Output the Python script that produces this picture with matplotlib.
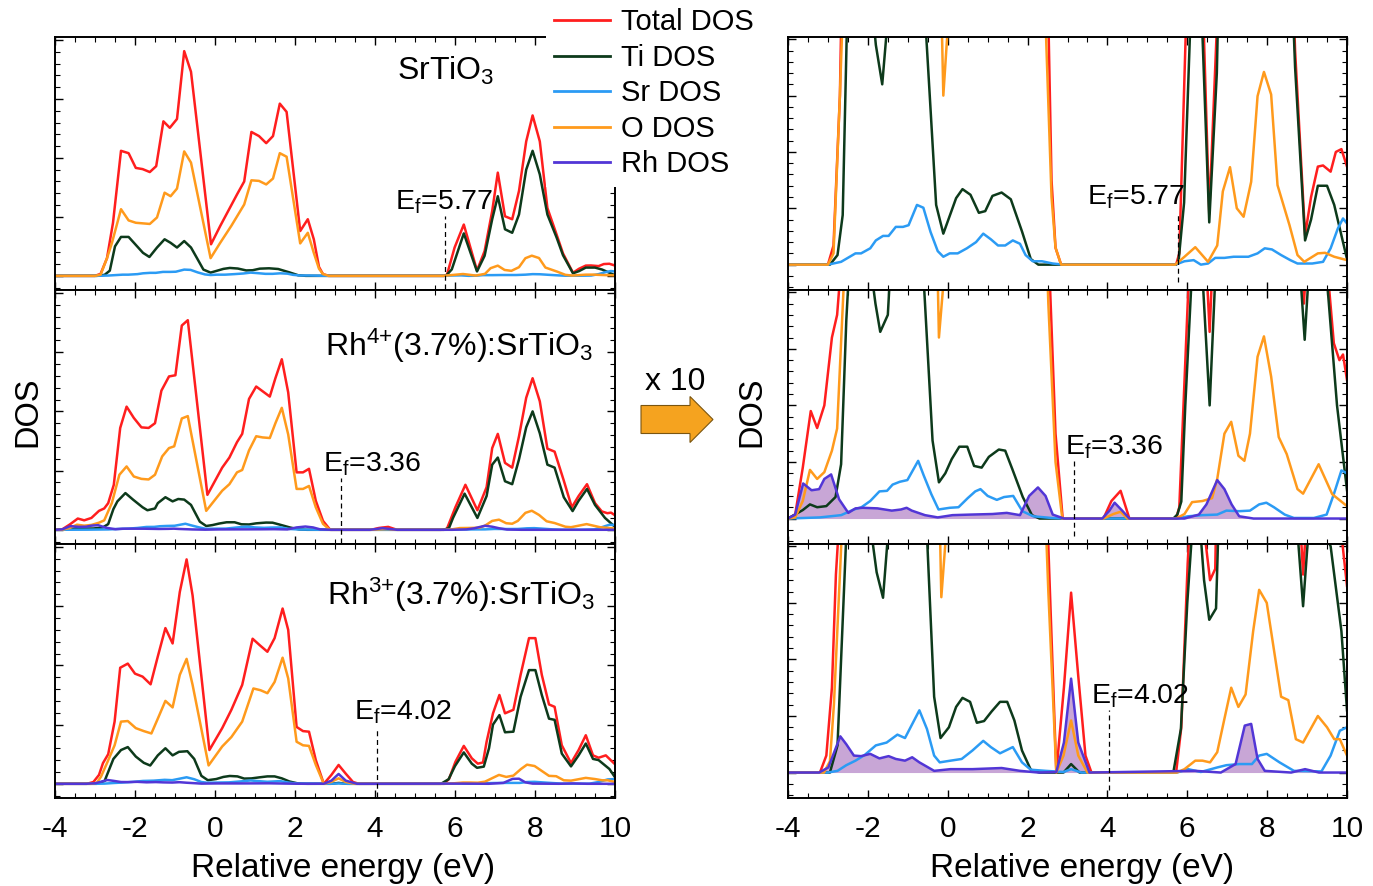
import numpy as np
import matplotlib
matplotlib.use('Agg')
import matplotlib.pyplot as plt
from matplotlib.ticker import MultipleLocator
from matplotlib.patches import FancyArrow
from matplotlib.lines import Line2D

plt.rcParams['font.family'] = ['Liberation Sans', 'DejaVu Sans']
plt.rcParams['mathtext.fontset'] = 'custom'
plt.rcParams['mathtext.rm'] = 'Liberation Sans'
plt.rcParams['mathtext.it'] = 'Liberation Sans:italic'
plt.rcParams['mathtext.default'] = 'regular'
plt.rcParams['axes.unicode_minus'] = False

# ---- SrTiO3 ----
sto_tot_e = [-4.0, -3.0, -2.86, -2.7, -2.55, -2.35, -2.16, -1.98, -1.81, -1.63, -1.47, -1.29, -1.13, -0.95, -0.77, -0.60,
             -0.10, 0.13, 0.55, 0.73, 0.91, 1.10, 1.28, 1.45, 1.62, 1.79, 2.13, 2.32, 2.47, 2.60, 2.70, 2.84, 5.72, 5.80,
             5.99, 6.22, 6.55, 6.74, 6.93, 7.07, 7.25, 7.43, 7.60, 7.78, 7.94, 8.12, 8.31, 8.54, 8.70, 8.95, 9.10, 9.27,
             9.40, 9.59, 9.72, 9.86, 10.0]
sto_tot = [0, 0, 0.034, 0.30, 0.90, 2.12, 2.08, 1.83, 1.81, 1.76, 1.86, 2.62, 2.51, 2.66, 3.81, 3.46,
           0.535, 0.845, 1.38, 1.60, 2.44, 2.37, 2.25, 2.37, 2.92, 2.78, 0.76, 0.96, 0.62, 0.15, 0.03, 0, 0, 0.02,
           0.48, 0.87, 0.09, 0.42, 1.10, 1.75, 1.01, 0.96, 1.44, 2.28, 2.72, 2.28, 1.15, 0.70, 0.38, 0.052, 0.12, 0.174,
           0.176, 0.165, 0.20, 0.205, 0.174]
sto_ti_e = [-4.0, -2.95, -2.76, -2.63, -2.50, -2.35, -2.16, -1.80, -1.64, -1.45, -1.26, -1.11, -0.95, -0.77, -0.60, -0.45,
            -0.29, -0.11, 0.21, 0.37, 0.57, 0.78, 0.94, 1.12, 1.35, 1.58, 1.86, 2.08, 2.27, 5.72, 5.78, 5.92, 6.22, 6.55,
            6.74, 6.93, 7.07, 7.25, 7.43, 7.60, 7.78, 7.94, 8.12, 8.31, 8.54, 8.70, 8.95, 9.10, 9.27, 9.50, 9.68, 10.0]
sto_ti = [0, 0, 0.017, 0.088, 0.50, 0.66, 0.66, 0.39, 0.32, 0.48, 0.62, 0.56, 0.48, 0.59, 0.48, 0.30,
          0.106, 0.055, 0.118, 0.134, 0.124, 0.092, 0.095, 0.122, 0.128, 0.116, 0.059, 0.01, 0, 0, 0.005, 0.11, 0.72, 0.075,
          0.34, 0.96, 1.35, 0.79, 0.73, 1.04, 1.80, 2.12, 1.72, 1.04, 0.65, 0.35, 0.043, 0.08, 0.14, 0.14, 0.106, 0.01]
sto_o_e = [-4.0, -3.0, -2.86, -2.70, -2.58, -2.35, -2.16, -1.98, -1.63, -1.45, -1.26, -1.11, -0.95, -0.77, -0.60, -0.11,
           0.13, 0.41, 0.73, 0.91, 1.10, 1.28, 1.45, 1.62, 1.79, 2.13, 2.32, 2.47, 2.60, 2.70, 2.84, 5.70, 5.93, 6.20,
           6.52, 6.75, 6.89, 7.07, 7.24, 7.41, 7.60, 7.76, 7.92, 8.10, 8.26, 8.56, 8.76, 8.93, 9.27, 9.45, 9.68, 10.0]
sto_o = [0, 0, 0.02, 0.30, 0.55, 1.13, 0.94, 0.90, 0.88, 0.99, 1.41, 1.35, 1.48, 2.11, 1.92, 0.30,
         0.56, 0.85, 1.21, 1.62, 1.61, 1.55, 1.65, 2.08, 2.02, 0.55, 0.73, 0.39, 0.12, 0.03, 0, 0, 0.014, 0.031,
         0.005, 0.034, 0.13, 0.173, 0.10, 0.085, 0.147, 0.299, 0.342, 0.302, 0.141, 0.07, 0.017, 0.005, 0.02, 0.021, 0.014, 0.008]
sto_sr_e = [-4.0, -3.0, -2.67, -2.31, -2.17, -1.94, -1.80, -1.62, -1.48, -1.30, -1.12, -0.98, -0.77, -0.61, -0.43, -0.25,
            -0.11, 0.05, 0.25, 0.48, 0.71, 0.89, 1.08, 1.26, 1.44, 1.63, 1.81, 1.95, 2.13, 2.36, 2.63, 2.91, 5.70, 5.93,
            6.16, 6.34, 6.52, 6.70, 6.93, 7.16, 7.34, 7.53, 7.76, 7.94, 8.12, 8.35, 8.58, 8.76, 9.13, 9.40, 9.59, 9.77,
            9.90, 10.0]
sto_sr = [0, 0, 0.005, 0.02, 0.02, 0.029, 0.043, 0.051, 0.051, 0.067, 0.067, 0.07, 0.106, 0.101, 0.058, 0.024,
          0.014, 0.02, 0.02, 0.029, 0.04, 0.055, 0.045, 0.034, 0.034, 0.043, 0.037, 0.017, 0.006, 0.006, 0.002, 0, 0, 0.006,
          0.008, 0, 0.002, 0.012, 0.012, 0.014, 0.014, 0.014, 0.02, 0.029, 0.027, 0.017, 0.008, 0.002, 0.002, 0.005, 0.029, 0.064,
          0.082, 0.073]

# ---- Rh4+(3.7%):SrTiO3 ----
rh4_tot_e = [-4.0, -3.82, -3.63, -3.43, -3.27, -3.09, -2.90, -2.77, -2.67, -2.53, -2.37, -2.21, -2.03, -1.84, -1.66, -1.50,
             -1.34, -1.15, -0.99, -0.83, -0.68, -0.19, 0.18, 0.36, 0.55, 0.68, 0.85, 1.03, 1.19, 1.37, 1.51, 1.67, 1.83,
             2.04, 2.20, 2.35, 2.52, 2.70, 2.88, 3.90, 4.10, 4.33, 4.55, 5.72, 5.80, 6.01, 6.26, 6.56, 6.79, 6.93, 7.07,
             7.25, 7.43, 7.60, 7.78, 7.94, 8.12, 8.31, 8.49, 8.72, 8.92, 9.09, 9.30, 9.50, 9.67, 9.81, 9.90, 10.0]
rh4_tot = [0, 0.007, 0.09, 0.19, 0.16, 0.20, 0.32, 0.36, 0.45, 0.76, 1.72, 2.08, 1.89, 1.73, 1.72, 1.80,
           2.35, 2.59, 2.61, 3.45, 3.54, 0.59, 1.05, 1.22, 1.48, 1.62, 2.21, 2.42, 2.34, 2.25, 2.56, 2.88, 2.32,
           0.97, 0.97, 1.03, 0.49, 0.15, 0, 0, 0.031, 0.049, 0, 0, 0.02, 0.38, 0.76, 0.33, 0.72, 1.38, 1.62,
           1.13, 1.05, 1.58, 2.23, 2.56, 2.17, 1.37, 1.32, 0.83, 0.38, 0.57, 0.77, 0.45, 0.31, 0.28, 0.29, 0.245]
rh4_ti_e = [-4.0, -3.63, -3.45, -3.27, -3.04, -2.81, -2.67, -2.54, -2.44, -2.24, -2.05, -1.81, -1.69, -1.50, -1.43, -1.24,
            -1.06, -0.92, -0.77, -0.60, -0.38, -0.22, -0.06, 0.10, 0.29, 0.49, 0.66, 0.85, 1.03, 1.28, 1.44, 1.62, 1.88,
            2.11, 2.30, 5.65, 5.75, 5.85, 5.95, 6.24, 6.56, 6.79, 6.93, 7.07, 7.25, 7.43, 7.60, 7.78, 7.94, 8.12, 8.31,
            8.49, 8.72, 8.94, 9.09, 9.30, 9.50, 9.75, 10.0]
rh4_ti = [0, 0.015, 0.025, 0.02, 0.022, 0.038, 0.096, 0.35, 0.48, 0.62, 0.51, 0.38, 0.33, 0.36, 0.45, 0.55,
          0.48, 0.52, 0.51, 0.42, 0.138, 0.064, 0.08, 0.105, 0.127, 0.127, 0.093, 0.09, 0.109, 0.122, 0.12, 0.087, 0.038,
          0.006, 0, 0, 0.007, 0.03, 0.2, 0.61, 0.2, 0.57, 1.10, 1.22, 0.82, 0.77, 1.19, 1.73, 2.0, 1.63, 1.10,
          1.05, 0.55, 0.316, 0.49, 0.69, 0.42, 0.2, 0.05]
rh4_o_e = [-4.0, -3.82, -3.63, -3.45, -3.27, -3.09, -2.90, -2.77, -2.58, -2.39, -2.21, -2.03, -1.84, -1.66, -1.50, -1.32,
           -1.15, -1.02, -0.83, -0.68, -0.22, 0.18, 0.36, 0.55, 0.68, 0.85, 1.03, 1.19, 1.37, 1.51, 1.67, 1.83, 2.04,
           2.20, 2.35, 2.52, 2.70, 2.87, 3.90, 4.15, 4.33, 4.50, 5.72, 5.93, 6.12, 6.38, 6.62, 6.75, 6.93, 7.10, 7.28,
           7.43, 7.57, 7.76, 7.92, 8.10, 8.29, 8.49, 8.76, 8.90, 9.29, 9.63, 10.0]
rh4_o = [0, 0.002, 0.031, 0.086, 0.07, 0.082, 0.12, 0.159, 0.45, 0.93, 1.07, 0.90, 0.86, 0.85, 0.93, 1.24,
         1.38, 1.41, 1.88, 1.92, 0.32, 0.66, 0.77, 0.97, 1.01, 1.34, 1.58, 1.56, 1.55, 1.80, 2.06, 1.61, 0.69,
         0.69, 0.74, 0.38, 0.10, 0, 0, 0.008, 0.012, 0, 0, 0.008, 0.029, 0.031, 0.036, 0.07, 0.150, 0.171, 0.111,
         0.102, 0.150, 0.286, 0.322, 0.251, 0.144, 0.114, 0.052, 0.044, 0.096, 0.043, 0.022]
rh4_sr_e = [-4.0, -3.2, -2.67, -2.35, -2.16, -1.94, -1.71, -1.52, -1.38, -1.20, -1.01, -0.74, -0.60, -0.41, -0.23, 0.05,
            0.27, 0.50, 0.69, 0.82, 1.00, 1.23, 1.41, 1.64, 1.87, 2.14, 2.60, 2.9, 5.74, 6.02, 6.38, 6.75, 6.98, 7.30,
            7.57, 7.80, 7.98, 8.17, 8.44, 8.67, 9.17, 9.49, 9.67, 9.86, 10.0]
rh4_sr = [0, 0.002, 0.006, 0.016, 0.02, 0.031, 0.048, 0.049, 0.06, 0.065, 0.068, 0.102, 0.076, 0.043, 0.016, 0.019,
          0.02, 0.036, 0.048, 0.052, 0.04, 0.033, 0.038, 0.04, 0.013, 0.004, 0.001, 0, 0, 0.004, 0.006, 0.007, 0.014, 0.013,
          0.014, 0.025, 0.028, 0.02, 0.007, 0.001, 0.001, 0.007, 0.043, 0.085, 0.08]
rh4_rh_e = [-4.0, -3.82, -3.62, -3.41, -3.22, -3.09, -2.92, -2.72, -2.49, -2.31, -2.13, -1.76, -1.40, -1.17, -1.03, -0.90,
            -0.57, -0.25, 0.12, 0.57, 1.12, 1.48, 1.81, 2.04, 2.26, 2.45, 2.63, 2.91, 3.87, 4.05, 4.18, 4.37, 4.55, 5.93,
            6.29, 6.48, 6.75, 6.93, 7.11, 7.30, 7.66, 10.0]
rh4_rh = [0, 0.007, 0.062, 0.05, 0.052, 0.07, 0.078, 0.034, 0.01, 0.018, 0.019, 0.018, 0.014, 0.016, 0.019, 0.014,
          0.006, 0.002, 0.006, 0.007, 0.008, 0.01, 0.006, 0.04, 0.055, 0.04, 0.007, 0, 0, 0.014, 0.028, 0.014, 0, 0,
          0.007, 0.025, 0.068, 0.052, 0.025, 0.004, 0, 0]

# ---- Rh3+(3.7%):SrTiO3 ----
rh3_tot_e = [-4.0, -3.20, -3.04, -2.90, -2.80, -2.67, -2.51, -2.37, -2.18, -2.00, -1.81, -1.61, -1.43, -1.24, -1.06, -0.88,
             -0.71, -0.56, -0.14, 0.18, 0.41, 0.68, 0.94, 1.12, 1.31, 1.49, 1.69, 1.83, 2.04, 2.20, 2.35, 2.52, 2.72,
             2.91, 3.09, 3.27, 3.45, 3.60, 5.72, 5.85, 6.01, 6.22, 6.42, 6.57, 6.70, 6.79, 6.95, 7.11, 7.25, 7.46, 7.64,
             7.85, 8.01, 8.17, 8.35, 8.49, 8.67, 8.90, 9.09, 9.27, 9.45, 9.59, 9.77, 10.0]
rh3_tot = [0, 0, 0.03, 0.15, 0.35, 0.50, 1.05, 1.96, 2.03, 1.86, 1.81, 1.68, 2.15, 2.63, 2.37, 3.24,
           3.79, 3.18, 0.57, 0.94, 1.25, 1.67, 2.45, 2.34, 2.23, 2.46, 2.96, 2.60, 0.96, 0.89, 0.88, 0.40, 0,
           0.15, 0.318, 0.17, 0.03, 0, 0, 0.08, 0.37, 0.64, 0.43, 0.34, 0.36, 0.71, 1.19, 1.50, 1.19, 1.25, 1.84,
           2.46, 2.46, 1.84, 1.34, 1.30, 0.65, 0.35, 0.57, 0.82, 0.48, 0.44, 0.48, 0.33]
rh3_ti_e = [-4.0, -2.95, -2.76, -2.54, -2.35, -2.18, -1.98, -1.78, -1.62, -1.43, -1.24, -1.06, -0.90, -0.69, -0.52, -0.34,
            -0.18, 0.03, 0.21, 0.37, 0.56, 0.73, 0.91, 1.10, 1.31, 1.49, 1.67, 1.86, 2.08, 2.30, 2.90, 3.09, 3.30, 5.65,
            5.84, 6.00, 6.22, 6.42, 6.55, 6.72, 6.85, 6.95, 7.11, 7.25, 7.46, 7.64, 7.85, 8.01, 8.17, 8.35, 8.49, 8.67,
            8.90, 9.09, 9.27, 9.45, 9.59, 9.86, 10.0]
rh3_ti = [0, 0, 0.048, 0.42, 0.57, 0.62, 0.46, 0.354, 0.309, 0.48, 0.60, 0.48, 0.54, 0.55, 0.42, 0.134,
          0.061, 0.08, 0.116, 0.132, 0.125, 0.088, 0.091, 0.108, 0.125, 0.125, 0.092, 0.039, 0.005, 0, 0, 0.015, 0, 0,
          0.077, 0.30, 0.53, 0.34, 0.27, 0.29, 0.60, 1.0, 1.16, 0.87, 0.88, 1.47, 1.92, 1.92, 1.50, 1.10, 1.08, 0.51,
          0.294, 0.48, 0.68, 0.42, 0.40, 0.25, 0.11]
rh3_o_e = [-4.0, -3.10, -2.95, -2.85, -2.70, -2.51, -2.35, -2.18, -1.98, -1.78, -1.59, -1.43, -1.24, -1.06, -0.88, -0.71,
           -0.56, -0.16, 0.18, 0.41, 0.68, 0.96, 1.14, 1.31, 1.49, 1.69, 1.83, 2.04, 2.20, 2.35, 2.52, 2.72, 2.90,
           3.09, 3.27, 3.50, 5.74, 5.93, 6.20, 6.38, 6.57, 6.75, 6.93, 7.10, 7.28, 7.46, 7.65, 7.80, 7.99, 8.17, 8.35,
           8.53, 8.72, 8.90, 9.27, 9.50, 9.68, 9.82, 10.0]
rh3_o = [0, 0, 0.02, 0.12, 0.35, 0.65, 1.05, 1.06, 0.94, 0.89, 0.85, 1.10, 1.40, 1.29, 1.84, 2.11,
         1.67, 0.31, 0.63, 0.79, 1.05, 1.61, 1.58, 1.53, 1.72, 2.13, 1.78, 0.71, 0.65, 0.64, 0.32, 0, 0.03,
         0.092, 0.03, 0, 0, 0.006, 0.021, 0.021, 0.018, 0.036, 0.095, 0.15, 0.116, 0.138, 0.25, 0.323, 0.30, 0.217, 0.134,
         0.128, 0.059, 0.053, 0.10, 0.08, 0.059, 0.059, 0.03]
rh3_sr_e = [-4.0, -3.0, -2.76, -2.54, -2.31, -2.08, -1.80, -1.53, -1.26, -1.07, -0.71, -0.52, -0.34, -0.20, 0.07, 0.35,
            0.62, 0.89, 1.08, 1.31, 1.63, 1.86, 2.08, 2.45, 2.90, 3.09, 3.35, 5.74, 6.02, 6.34, 6.75, 6.98, 7.30, 7.62,
            7.80, 7.99, 8.31, 8.67, 9.36, 9.59, 9.82, 10.0]
rh3_sr = [0, 0, 0.003, 0.013, 0.021, 0.031, 0.048, 0.053, 0.067, 0.061, 0.11, 0.077, 0.03, 0.018, 0.021, 0.024,
          0.039, 0.056, 0.045, 0.034, 0.045, 0.018, 0.005, 0.003, 0.001, 0.006, 0, 0, 0.006, 0.001, 0.009, 0.013, 0.015, 0.015,
          0.03, 0.033, 0.018, 0.003, 0.002, 0.03, 0.074, 0.08]
rh3_rh_e = [-4.0, -3.22, -2.99, -2.69, -2.54, -2.35, -2.17, -1.94, -1.71, -1.48, -1.30, -1.07, -0.89, -0.71, -0.34, 0.07,
            0.62, 1.35, 1.81, 2.27, 2.72, 2.91, 3.09, 3.27, 3.55, 6.20, 6.84, 7.21, 7.44, 7.60, 7.76, 7.94, 8.6, 8.95,
            9.3, 10.0]
rh3_rh = [0, 0, 0.009, 0.064, 0.05, 0.03, 0.029, 0.033, 0.025, 0.029, 0.024, 0.021, 0.027, 0.018, 0.003, 0.006,
          0.006, 0.008, 0.003, 0, 0.001, 0.053, 0.166, 0.053, 0, 0.003, 0, 0.015, 0.083, 0.086, 0.024, 0.003, 0, 0.006,
          0, 0]

titles = ['SrTiO$_{3}$',
          'Rh$^{4{+}}$(3.7%):SrTiO$_{3}$',
          'Rh$^{3{+}}$(3.7%):SrTiO$_{3}$']
ef_pos = [5.76, 3.16, 4.05]
ef_text = ['5.77', '3.36', '4.02']
labels = ['Total DOS', 'Ti DOS', 'Sr DOS', 'O DOS', 'Rh DOS']

colors = ['#FF1E1E', '#0D3A1B', '#2B9BF4', '#FF9A1C', '#5236D6']
rh_fill = '#C8A6D6'

systems = [
    [(sto_tot_e, sto_tot), (sto_ti_e, sto_ti), (sto_sr_e, sto_sr), (sto_o_e, sto_o), None],
    [(rh4_tot_e, rh4_tot), (rh4_ti_e, rh4_ti), (rh4_sr_e, rh4_sr), (rh4_o_e, rh4_o), (rh4_rh_e, rh4_rh)],
    [(rh3_tot_e, rh3_tot), (rh3_ti_e, rh3_ti), (rh3_sr_e, rh3_sr), (rh3_o_e, rh3_o), (rh3_rh_e, rh3_rh)],
]

W, H = 1373, 886
fig = plt.figure(figsize=(W / 100, H / 100), dpi=100)

rows_px = [(37, 290), (290, 544), (544, 798)]
cols_px = [(55, 615), (788, 1347)]

# text positions (x in eV, y in axis units) for left / right columns
title_xy = [(4.55, 3.32), (2.76, 2.94), (2.80, 3.02)]
ef_lab_left = [(4.49, 1.13), (2.69, 0.99), (3.48, 1.08)]
ef_lab_right = [(3.50, 1.06), (2.93, 1.14), (3.59, 1.22)]


def style_axes(ax, bottom):
    ax.set_xlim(-4, 10)
    ax.xaxis.set_major_locator(MultipleLocator(2))
    ax.xaxis.set_minor_locator(MultipleLocator(0.5))
    ax.yaxis.set_major_locator(MultipleLocator(1))
    ax.yaxis.set_minor_locator(MultipleLocator(0.2))
    ax.tick_params(which='both', direction='in', top=True, right=True, labelleft=False,
                   labelbottom=bottom, labelsize=21.5, pad=12)
    ax.tick_params(which='major', length=6, width=1.0)
    ax.tick_params(which='minor', length=3.5, width=0.8)
    for s in ax.spines.values():
        s.set_linewidth(1.4)


for r, (top, bot) in enumerate(rows_px):
    for c, (left, right) in enumerate(cols_px):
        ax = fig.add_axes([left / W, 1 - bot / H, (right - left) / W, (bot - top) / H])
        scale = 1.0 if c == 0 else 10.0
        style_axes(ax, r == 2)
        if c == 0:
            ax.set_ylim(-0.24, 4.05)
        else:
            ax.set_ylim(-0.45, 4.04)
        series = systems[r]
        if series[4] is not None and c == 1:
            e, v = series[4]
            ax.fill_between(e, 0, np.array(v) * scale, color=rh_fill, lw=0, zorder=1)
        for k, s in enumerate(series):
            if s is None:
                continue
            e, v = s
            ax.plot(e, np.array(v) * scale, color=colors[k], lw=1.8, zorder=2 + k * 0.1)
        # Fermi level
        if c == 0:
            lx, ly = ef_lab_left[r]
            ybot = -0.22
        else:
            lx, ly = ef_lab_right[r]
            ybot = -0.3
        ytop = ly - 0.12
        ax.plot([ef_pos[r], ef_pos[r]], [ybot, ytop], color='black', lw=0.9,
                dashes=(4, 3), zorder=3)
        ax.text(lx, ly, 'E$_{f}$=' + ef_text[r], fontsize=20.5, ha='left', va='baseline', zorder=4)
        if c == 0:
            tx, ty = title_xy[r]
            ax.text(tx, ty, titles[r], fontsize=23, ha='left', va='baseline', zorder=4)

# axis labels
for cx in [343, 1082]:
    fig.text(cx / W, 1 - 877 / H, 'Relative energy (eV)', ha='center', va='baseline', fontsize=24)
for cx in [28, 752]:
    fig.text(cx / W, 1 - 412 / H, 'DOS', rotation=90, ha='center', va='center', fontsize=23.5)

# "x 10" arrow
fig.text(675 / W, 1 - 382 / H, 'x 10', ha='center', va='center', fontsize=23)
arrow = FancyArrow(641 / W, 1 - 419.5 / H, 72 / W, 0, width=28 / H, head_width=46 / H,
                   head_length=23 / W, length_includes_head=True, transform=fig.transFigure,
                   facecolor='#F5A31F', edgecolor='#7A5510', lw=0.8)
fig.patches.append(arrow)

# legend
handles = [Line2D([], [], color=col, lw=2) for col in colors]
fig.legend(handles, labels, loc='upper left', bbox_to_anchor=(546 / W, 1.0), frameon=True,
           fancybox=False, edgecolor='none', facecolor='white', framealpha=1, fontsize=21,
           handlelength=1.9, handletextpad=0.4, labelspacing=0.26, borderpad=0.28, borderaxespad=0)

fig.savefig('out.png', dpi=100)
